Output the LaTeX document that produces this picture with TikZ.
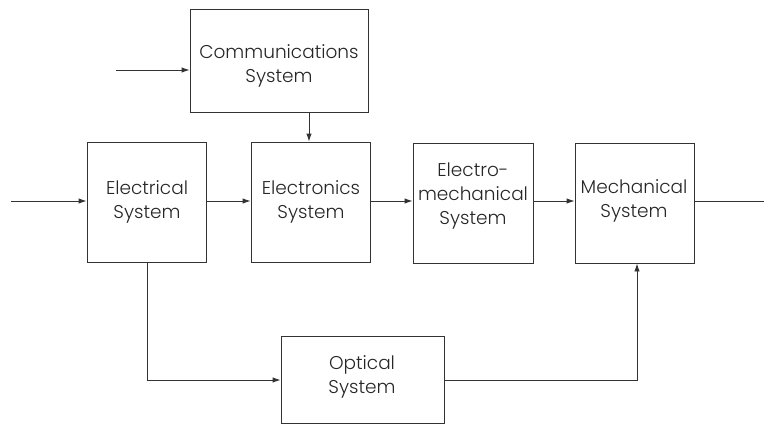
\documentclass[tikz,border=0pt]{standalone}
\usepackage{fontspec}
\setmainfont{Poppins}[UprightFont=* Light]
\usetikzlibrary{arrows.meta}
\begin{document}
\begin{tikzpicture}[x=1pt,y=-1pt,
  inkc/.style={draw=black!80, line width=0.9pt},
  block/.style={inkc, rectangle, inner sep=0pt},
  lbl/.style={align=center, font=\fontsize{18.5}{24}\selectfont, text=black!85, inner sep=0pt},
  flow/.style={inkc, -{Latex[length=8pt,width=5.5pt]}},
  line/.style={inkc}]
\useasboundingbox (0,0) rectangle (764,424);
% blocks (corner to corner)
\node[block, minimum width=178pt, minimum height=103pt] (comm)  at (279,60.5) {};
\node[block, minimum width=119pt, minimum height=120pt] (elec)  at (146.5,202) {};
\node[block, minimum width=119pt, minimum height=120pt] (etron) at (310.5,202) {};
\node[block, minimum width=120pt, minimum height=120pt] (emech) at (473,203) {};
\node[block, minimum width=119pt, minimum height=120pt] (mech)  at (634.5,203) {};
\node[block, minimum width=163pt, minimum height=87pt]  (opt)   at (362.5,379.5) {};
% block captions
\node[lbl] (commT)  at (279,65.5)  {Communications\\System};
\node[lbl] (elecT)  at (147,202)   {Electrical\\System};
\node[lbl] (etronT) at (311,202)   {Electronics\\System};
\node[lbl] (emechT) at (473,196)   {Electro-\\mechanical\\System};
\node[lbl] (mechT)  at (634,200.5) {Mechanical\\System};
\node[lbl] (optT)   at (362,377)   {Optical\\System};
% free ends
\coordinate (inC)  at (116,70);
\coordinate (inE)  at (11,201);
\coordinate (outM) at (764,201);
% connectors
\draw[flow] (inC) -- (inC -| comm.west);
\draw[flow] (comm.south -| 309,0) -- (etron.north -| 309,0);
\draw[flow] (inE) -- (inE -| elec.west);
\draw[flow] (elec.east |- 0,201) -- (etron.west |- 0,201);
\draw[flow] (etron.east |- 0,201) -- (emech.west |- 0,201);
\draw[flow] (emech.east |- 0,201) -- (mech.west |- 0,201);
\draw[line] (mech.east |- outM) -- (outM);
\draw[flow] (elec.south -| 147,0) |- (opt.west |- 0,380);
\draw[flow] (opt.east |- 0,380) -| (mech.south -| 637,0);
\end{tikzpicture}
\end{document}
